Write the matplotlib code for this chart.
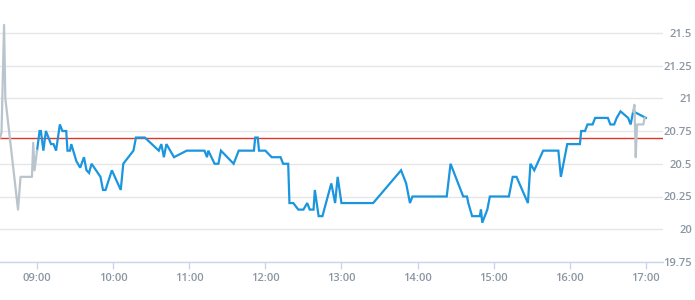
import matplotlib
matplotlib.use("Agg")
import matplotlib.pyplot as plt

# pre-market (grey)
pre_times = ['08:31', '08:32', '08:34', '08:35', '08:45', '08:47', '08:56', '08:57', '08:58', '09:00']
pre_prices = [20.70, 20.74, 21.56, 21.00, 20.15, 20.40, 20.40, 20.66, 20.45, 20.60]

# regular session (blue)
times = ['09:00', '09:02', '09:03', '09:05', '09:07', '09:09', '09:11', '09:13', '09:15', '09:18',
         '09:20', '09:23', '09:24', '09:26', '09:27', '09:31', '09:34', '09:37', '09:39', '09:41',
         '09:43', '09:50', '09:52', '09:54', '09:59', '10:06', '10:08', '10:16', '10:18', '10:25',
         '10:36', '10:38', '10:40', '10:42', '10:48', '10:58', '11:12', '11:14', '11:15', '11:20',
         '11:23', '11:25', '11:35', '11:39', '11:51', '11:52', '11:54', '11:55', '12:00', '12:05',
         '12:12', '12:14', '12:18', '12:19', '12:22', '12:26', '12:30', '12:33', '12:35', '12:38',
         '12:39', '12:42', '12:45', '12:52', '12:55', '12:57', '13:00', '13:25', '13:47', '13:51',
         '13:54', '13:56', '14:23', '14:26', '14:36', '14:39', '14:40', '14:43', '14:49', '14:50',
         '14:51', '14:55', '14:57', '15:12', '15:15', '15:18', '15:27', '15:29', '15:32', '15:39',
         '15:51', '15:53', '15:58', '16:08', '16:09', '16:12', '16:14', '16:18', '16:20', '16:30',
         '16:32', '16:35', '16:37', '16:40', '16:46', '16:48', '16:50', '17:00']
prices = [20.60, 20.75, 20.75, 20.60, 20.75, 20.70, 20.65, 20.65, 20.60, 20.80,
          20.75, 20.75, 20.60, 20.60, 20.65, 20.52, 20.47, 20.55, 20.45, 20.43,
          20.50, 20.40, 20.30, 20.30, 20.45, 20.30, 20.50, 20.60, 20.70, 20.70,
          20.60, 20.65, 20.55, 20.65, 20.55, 20.60, 20.60, 20.55, 20.60, 20.50,
          20.50, 20.60, 20.50, 20.60, 20.60, 20.70, 20.70, 20.60, 20.60, 20.55,
          20.55, 20.50, 20.50, 20.20, 20.20, 20.15, 20.15, 20.20, 20.15, 20.15,
          20.30, 20.10, 20.10, 20.35, 20.20, 20.40, 20.20, 20.20, 20.45, 20.35,
          20.20, 20.25, 20.25, 20.50, 20.25, 20.25, 20.20, 20.10, 20.10, 20.15,
          20.05, 20.15, 20.25, 20.25, 20.40, 20.40, 20.20, 20.50, 20.45, 20.60,
          20.60, 20.40, 20.65, 20.65, 20.75, 20.75, 20.80, 20.80, 20.85, 20.85,
          20.80, 20.80, 20.85, 20.90, 20.85, 20.80, 20.90, 20.85]

# after-hours (grey)
post_times = ['16:50', '16:51', '16:52', '16:53', '16:58', '16:59']
post_prices = [20.90, 20.95, 20.55, 20.80, 20.80, 20.85]

prev_close = 20.695
yticks = [19.75, 20, 20.25, 20.5, 20.75, 21, 21.25, 21.5]
ytick_labels = ['19.75', '20', '20.25', '20.5', '20.75', '21', '21.25', '21.5']
hours = ['09:00', '10:00', '11:00', '12:00', '13:00', '14:00', '15:00', '16:00', '17:00']


def mins(hhmm):
    h, m = hhmm.split(':')
    return int(h) * 60 + int(m)


label_color = '#8a96a3'
plt.rcParams['font.family'] = ['Open Sans', 'DejaVu Sans']

fig = plt.figure(figsize=(6.95, 3.0), dpi=100)
ax = fig.add_axes([0, 38 / 300, 663 / 695, 262 / 300])

ax.axhline(prev_close, color='#e0352b', lw=1.0, zorder=2)
ax.plot([mins(t) for t in times], prices, color='#1b96de', lw=1.6, zorder=3,
        solid_joinstyle='miter')
ax.plot([mins(t) for t in pre_times], pre_prices, color='#b9c4cd', lw=1.6, zorder=4)
ax.plot([mins(t) for t in post_times], post_prices, color='#b9c4cd', lw=1.6, zorder=4)

ax.set_xlim(510.8, 1033.5)
ax.set_ylim(19.75, 21.75)

ax.set_yticks(yticks)
ax.set_yticklabels(ytick_labels)
ax.yaxis.tick_right()
ax.tick_params(axis='y', length=0, pad=21, labelsize=8, labelcolor=label_color)
for lab in ax.get_yticklabels():
    lab.set_horizontalalignment('right')
    lab.set_fontweight('semibold')

ax.set_xticks([mins(h) for h in hours])
ax.set_xticklabels(hours)
ax.tick_params(axis='x', length=5, width=1, color='#ccd6eb', pad=3,
               labelsize=8, labelcolor=label_color)
for lab in ax.get_xticklabels():
    lab.set_fontweight('semibold')

ax.grid(axis='y', color='#e6e6e6', lw=1)
for s in ['top', 'left', 'right']:
    ax.spines[s].set_visible(False)
ax.spines['bottom'].set_color('#ccd6eb')
ax.spines['bottom'].set_linewidth(1)
ax.set_axisbelow(True)

fig.savefig('out.png', dpi=100)
